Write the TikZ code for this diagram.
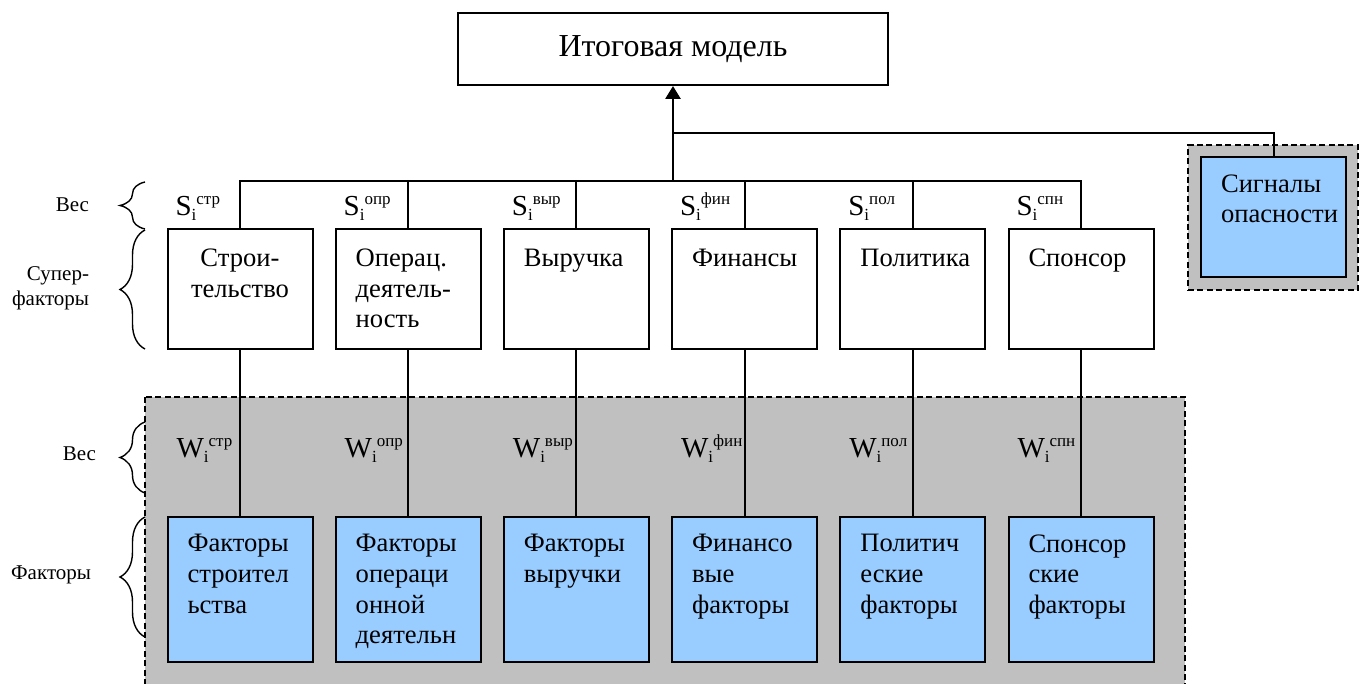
\documentclass[tikz,border=0pt]{standalone}
\usepackage{fontspec}
\setmainfont{Liberation Serif}
\usetikzlibrary{arrows.meta,positioning,calc,decorations.pathreplacing}

\definecolor{boxblue}{HTML}{99CCFF}
\definecolor{panelgray}{HTML}{C0C0C0}
\newcommand\boxfont{\fontsize{13.3}{15.3}\selectfont}
\newcommand\supfont{\fontsize{8.5}{8.5}\selectfont}
\newcommand\wgt[2]{#1\raisebox{-2.5pt}{\supfont i}\raisebox{5.5pt}{\supfont #2}}

\begin{document}
\begin{tikzpicture}[x=0.5pt, y=-0.5pt, line width=1pt,
    cell/.style={draw, line width=1pt, minimum width=72.5pt, inner sep=0pt},
    supbox/.style={cell, minimum height=60pt},
    facbox/.style={cell, fill=boxblue, minimum height=72.5pt},
    lfttxt/.style={anchor=north west, align=left, inner xsep=10pt, inner ysep=10pt, font=\boxfont},
    ctrtxt/.style={anchor=north west, align=center, text width=72.5pt, inner xsep=0pt, inner ysep=10pt, font=\boxfont},
    factxt/.style={lfttxt, inner ysep=8.7pt},
    wlab/.style={anchor=base west, inner sep=0pt, font=\fontsize{14.5}{16}\selectfont},
    sidelab/.style={anchor=east, align=right, inner sep=0pt, font=\fontsize{10.5}{12.5}\selectfont},
    brc/.style={decorate, decoration={brace, amplitude=12.5pt}, line width=0.7pt},
    panel/.style={draw, dash pattern=on 3pt off 1.7pt, line width=0.9pt, fill=panelgray}
]
\useasboundingbox (0,0) rectangle (1367,684);
% Shaded panels behind the factor level and the warning signals.
\draw[panel] (145,397) rectangle (1185,700);
\node[panel, minimum width=85pt, minimum height=72.5pt, inner sep=0pt] (sigframe) at (1273,217.5) {};
% Top level.
\node[cell, minimum width=215pt, minimum height=36pt, font=\fontsize{16}{18}\selectfont] (top) at (673,49) {Итоговая модель};
\node[supbox, fill=boxblue, label={[factxt]north west:Сигналы\\опасности}] (sig) at (1273.5,217) {};
\coordinate (bus) at (673,181);
\coordinate (fork) at (673,133);
% Super-factors, their weights and factor groups.
\foreach \i/\x/\tsty/\sname/\key/\fname in {
    1/240/ctrtxt/{Строи-\\тельство}/стр/{Факторы\\строител\\ьства},
    2/408.2/lfttxt/{Операц.\\деятель-\\ность}/опр/{Факторы\\операци\\онной\\деятельн},
    3/576.4/lfttxt/{Выручка}/выр/{Факторы\\выручки},
    4/744.6/lfttxt/{Финансы}/фин/{Финансо\\вые\\факторы},
    5/912.8/lfttxt/{Политика}/пол/{Политич\\еские\\факторы},
    6/1081/lfttxt/{Спонсор}/спн/{Спонсор\\ские\\факторы}}{
    \node[supbox, label={[\tsty]north west:\sname}] (sup\i) at (\x,289) {};
    \node[facbox, label={[factxt]north west:\fname}] (fac\i) at (\x,589.5) {};
    \node[wlab] (s\i) at ($(sup\i.north west)+(8,-12)$) {\wgt{S}{\key}};
    \node[wlab] (w\i) at ($(fac\i.north west)+(9,-58)$) {\wgt{W}{\key}};
    \draw (sup\i) -- (fac\i);
    \draw (sup\i.north) |- (bus);
}
\draw[line width=1.4pt, -{Triangle[length=6.5pt,width=7.5pt]}] (bus) -- (top);
\draw (fork) -| (sig);
% Level braces on the left.
\draw[brc] (145,229) -- (145,182);
\node[sidelab] (vesS) at (90,205) {Вес};
\draw[brc] (145,349) -- (145,230);
\node[sidelab] (supS) at (90,288) {Супер-\\факторы};
\draw[brc] (145,493) -- (145,422);
\node[sidelab] (vesF) at (97,454) {Вес};
\draw[brc] (145,637) -- (145,517);
\node[sidelab] (facF) at (92,575) {Факторы};
\end{tikzpicture}
\end{document}
